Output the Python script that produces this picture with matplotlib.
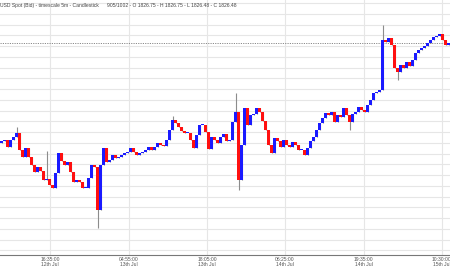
import matplotlib
matplotlib.use("Agg")
import matplotlib.pyplot as plt
import numpy as np

# ---- data ----
first_open = 1817.20
closes = [
    1817.36, 1817.46, 1816.81, 1817.46, 1817.74, 1818.11, 1816.53, 1815.88, 1816.71, 1815.88,
    1815.13, 1814.48, 1814.95, 1814.57, 1813.74, 1813.83, 1813.27, 1812.99, 1814.39, 1816.25,
    1815.50, 1815.13, 1815.41, 1814.48, 1813.55, 1813.74, 1813.55, 1812.99, 1812.99, 1813.92,
    1815.13, 1814.95, 1810.95, 1815.13, 1816.71, 1815.41, 1815.60, 1816.06, 1815.78, 1815.88,
    1816.06, 1816.25, 1816.34, 1816.71, 1816.34, 1816.06, 1816.25, 1816.34, 1816.53, 1816.81,
    1816.53, 1816.81, 1817.18, 1816.99, 1816.90, 1817.46, 1818.39, 1819.32, 1819.04, 1818.67,
    1818.29, 1818.11, 1818.11, 1817.46, 1816.71, 1817.92, 1818.85, 1818.85, 1818.20, 1816.62,
    1817.74, 1817.46, 1817.18, 1817.74, 1818.01, 1817.36, 1817.46, 1819.13, 1820.06, 1813.74,
    1816.99, 1820.43, 1818.85, 1819.78, 1819.88, 1820.43, 1820.06, 1819.22, 1818.39, 1816.99,
    1816.25, 1817.64, 1817.36, 1816.81, 1817.46, 1816.99, 1816.81, 1817.27, 1816.99, 1816.53,
    1816.53, 1816.06, 1816.71, 1817.36, 1817.74, 1818.39, 1819.04, 1819.50, 1819.97, 1819.78,
    1820.06, 1819.13, 1819.78, 1819.60, 1820.43, 1819.78, 1819.13, 1819.88, 1820.06, 1820.53,
    1820.25, 1820.06, 1820.71, 1821.18, 1821.83, 1821.92, 1822.11, 1826.76, 1826.57, 1826.95,
    1826.29, 1824.15, 1823.78, 1824.43, 1824.15, 1824.71, 1824.34, 1824.90, 1825.55, 1825.83,
    1826.01, 1826.20, 1826.48, 1826.76, 1827.04, 1827.13, 1827.32, 1826.76, 1826.29, 1826.48,
]
# wick extremes for bars with visible shadows: index -> price
wick_low = {5: 1817.90, 32: 1809.27, 79: 1812.81, 116: 1818.39, 132: 1823.04, 57: 1818.90}
wick_high = {5: 1818.67, 57: 1819.69, 78: 1821.83, 127: 1828.15, 15: 1816.40}
last_price = 1826.48
tick_pos = [16.2, 42.5, 68.5, 94.5, 120.8, 146.8]
tick_labels = ["16:35:00\n12th Jul", "04:55:00\n13th Jul", "18:05:00\n13th Jul",
               "06:25:00\n14th Jul", "19:35:00\n14th Jul", "10:30:00\n15th Jul"]
header = ("USD Spot (Bid) - timescale 5m - Candlestick      "
          "905/1002 - O 1826.75 - H 1826.75 - L 1826.48 - C 1826.48")

# ---- build OHLC ----
closes = np.array(closes)
opens = np.concatenate([[first_open], closes[:-1]])
n = len(closes)
x = np.arange(n)
lo = np.minimum(opens, closes)
hi = np.maximum(opens, closes)
lows = np.array([min(wick_low.get(i, lo[i]), lo[i]) for i in range(n)])
highs = np.array([max(wick_high.get(i, hi[i]), hi[i]) for i in range(n)])
up = closes >= opens

fig = plt.figure(figsize=(4.5, 2.66), dpi=100)
ax = fig.add_axes([0, 11 / 266, 1, 255 / 266])
ax.set_xlim(-0.5, n - 0.5)
ax.set_ylim(1806.76, 1830.48)

# grid
for g in np.arange(1807.2, 1830.5, 1.0):
    ax.axhline(g, color="#e6e6e6", lw=0.8, zorder=0)
for t in tick_pos:
    ax.axvline(t, color="#e6e6e6", lw=0.8, zorder=0)

ax.axhline(last_price, color="#8a8a8a", lw=0.7, ls=(0, (1.2, 1.2)), zorder=1)

ax.vlines(x, lows, highs, color="#8c8c8c", lw=0.8, zorder=2)
heights = np.maximum(hi - lo, 0.08)
ax.bar(x[up], heights[up], bottom=lo[up], width=0.8, color="#1a1aff", lw=0, zorder=3)
ax.bar(x[~up], heights[~up], bottom=lo[~up], width=0.8, color="#ff1010", lw=0, zorder=3)

for s in ["top", "left", "right"]:
    ax.spines[s].set_visible(False)
ax.spines["bottom"].set_color("#777777")
ax.spines["bottom"].set_linewidth(0.8)
ax.set_yticks([])
ax.set_xticks(tick_pos)
ax.set_xticklabels(tick_labels, fontsize=3.6, color="#555555", family="Liberation Sans",
                   linespacing=0.95)
ax.tick_params(axis="x", length=0, pad=1.5)

fig.text(0.0, 1 - 5 / 266, header, fontsize=3.6, color="#444444", family="Liberation Sans",
         va="center", ha="left")

fig.savefig("out.png", dpi=100)
